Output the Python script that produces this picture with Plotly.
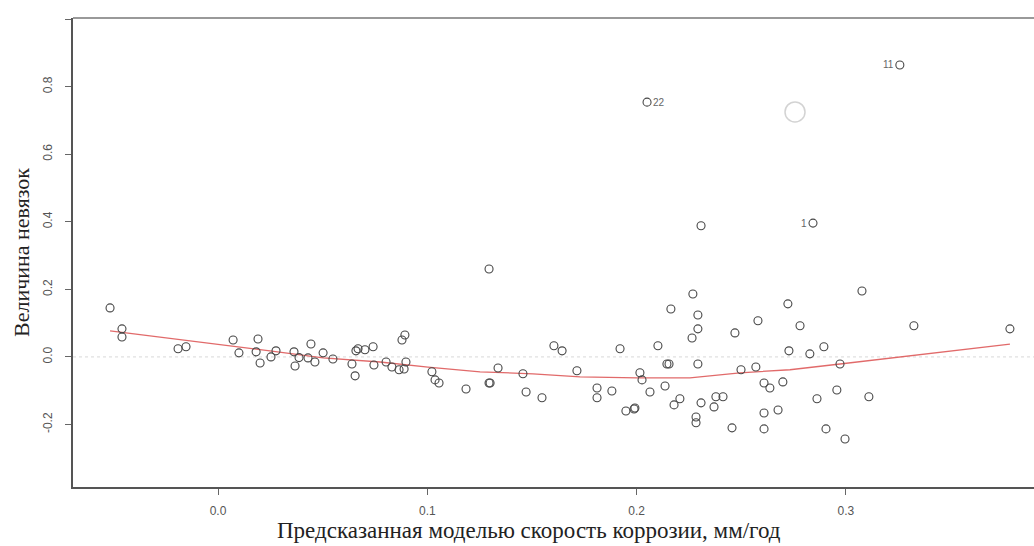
import plotly.graph_objects as go

# Fitted values (predicted corrosion rate, mm/yr) and residuals
fitted = [
    -0.0516, -0.0459, -0.0459, -0.0191, -0.0153, 0.0072, 0.0100, 0.0182, 0.0191, 0.0201,
    0.0253, 0.0277, 0.0363, 0.0368, 0.0387, 0.0430, 0.0444, 0.0463, 0.0502, 0.0549,
    0.0640, 0.0655, 0.0659, 0.0669, 0.0702, 0.0741, 0.0745, 0.0803, 0.0831, 0.0865,
    0.0889, 0.0898, 0.0879, 0.0893, 0.1022, 0.1037, 0.1056, 0.1185, 0.1295, 0.1295,
    0.1300, 0.1338, 0.1457, 0.1472, 0.1548, 0.1605, 0.1644, 0.1715, 0.1811, 0.1811,
    0.1882, 0.1921, 0.1949, 0.1988, 0.1992, 0.2016, 0.2026, 0.2064, 0.2102, 0.2136,
    0.2145, 0.2155, 0.2164, 0.2179, 0.2207, 0.2265, 0.2293, 0.2293, 0.2269, 0.2308,
    0.2293, 0.2308, 0.2284, 0.2284, 0.2370, 0.2379, 0.2413, 0.2456, 0.2470, 0.2499,
    0.2570, 0.2580, 0.2609, 0.2637, 0.2609, 0.2609, 0.2676, 0.2699, 0.2723, 0.2728,
    0.2781, 0.2828, 0.2843, 0.2862, 0.2895, 0.2905, 0.2957, 0.2972, 0.2996, 0.3077,
    0.3110, 0.3325, 0.3784, 0.2050, 0.3258,
]
residuals = [
    0.145, 0.083, 0.059, 0.024, 0.030, 0.050, 0.012, 0.015, 0.053, -0.018,
    0.000, 0.018, 0.015, -0.027, -0.002, -0.003, 0.038, -0.015, 0.012, -0.006,
    -0.021, -0.056, 0.018, 0.024, 0.021, 0.030, -0.024, -0.015, -0.030, -0.038,
    -0.036, -0.015, 0.050, 0.065, -0.044, -0.068, -0.077, -0.095, 0.260, -0.077,
    -0.077, -0.033, -0.050, -0.104, -0.121, 0.033, 0.018, -0.041, -0.092, -0.121,
    -0.101, 0.024, -0.160, -0.154, -0.151, -0.047, -0.068, -0.104, 0.033, -0.086,
    -0.021, -0.021, 0.142, -0.142, -0.124, 0.056, 0.083, 0.124, 0.186, 0.388,
    -0.021, -0.136, -0.178, -0.195, -0.148, -0.118, -0.118, -0.210, 0.071, -0.038,
    -0.030, 0.107, -0.077, -0.092, -0.166, -0.213, -0.157, -0.074, 0.157, 0.018,
    0.092, 0.009, 0.396, -0.124, 0.030, -0.213, -0.098, -0.021, -0.243, 0.195,
    -0.118, 0.092, 0.083, 0.754, 0.864,
]

# Observations with the largest residuals and their numbers
labeled_x = [0.2843, 0.3258, 0.2050]
labeled_y = [0.396, 0.864, 0.754]
labeled_id = ["1", "11", "22"]
labeled_side = ["left", "left", "right"]

# Smoothed trend of the residuals
smooth_x = [-0.0516, -0.0277, 0.0, 0.0248, 0.0502, 0.0774, 0.1003, 0.1252, 0.1505,
            0.1730, 0.2002, 0.2255, 0.2494, 0.2733, 0.2972, 0.3258, 0.3545, 0.3784]
smooth_y = [0.077, 0.059, 0.038, 0.018, -0.003, -0.015, -0.030, -0.044, -0.050,
            -0.059, -0.062, -0.062, -0.047, -0.038, -0.021, 0.000, 0.021, 0.038]

# Faint stray ring in the upper area
ring_x = [0.2757]
ring_y = [0.725]

x_ticks = [0.0, 0.1, 0.2, 0.3]
x_tick_text = ["0.0", "0.1", "0.2", "0.3"]
y_ticks = [-0.2, 0.0, 0.2, 0.4, 0.6, 0.8, 1.0]
y_tick_text = ["-0.2", "0.0", "0.2", "0.4", "0.6", "0.8", ""]

x_range = [-0.0693, 0.3899]
y_range = [-0.385, 1.003]

fig = go.Figure()

# Dotted reference line at zero residual
fig.add_trace(go.Scatter(
    x=x_range, y=[0, 0], mode="lines",
    line=dict(color="rgba(190,190,190,0.6)", width=1, dash="dot"),
    hoverinfo="skip", showlegend=False,
))

fig.add_trace(go.Scatter(
    x=smooth_x, y=smooth_y, mode="lines",
    line=dict(color="rgba(220,80,80,0.85)", width=1.3),
    showlegend=False,
))

fig.add_trace(go.Scatter(
    x=fitted, y=residuals, mode="markers",
    marker=dict(symbol="circle-open", size=8, color="#474747", line=dict(width=1.1)),
    showlegend=False,
))

fig.add_trace(go.Scatter(
    x=ring_x, y=ring_y, mode="markers",
    marker=dict(symbol="circle-open", size=20, color="rgba(200,200,200,0.8)", line=dict(width=1.5)),
    showlegend=False,
))

# Observation numbers beside the flagged points
for lx, ly, lid, side in zip(labeled_x, labeled_y, labeled_id, labeled_side):
    fig.add_annotation(
        x=lx, y=ly, text=lid, showarrow=False,
        xanchor="right" if side == "left" else "left",
        xshift=-4 if side == "left" else 4,
        font=dict(family="Liberation Sans, Arial, sans-serif", size=10, color="#666"),
    )

# X-axis title placed below the tick labels
fig.add_annotation(
    text="Предсказанная моделью скорость коррозии, мм/год",
    xref="paper", yref="paper", x=0.475, y=-0.0938,
    xanchor="center", yanchor="middle", showarrow=False,
    font=dict(family="Liberation Serif, Times New Roman, serif", size=23, color="#222"),
)

tick_font = dict(family="Liberation Sans, Arial, sans-serif", size=12, color="#555")
y_title_font = dict(family="Liberation Serif, Times New Roman, serif", size=22, color="#222")

fig.update_layout(
    width=1034, height=546,
    margin=dict(l=73, r=0, t=18, b=59),
    paper_bgcolor="white", plot_bgcolor="white",
    xaxis=dict(
        range=x_range, tickvals=x_ticks, ticktext=x_tick_text,
        ticks="outside", ticklen=6, tickcolor="#666", tickfont=tick_font,
        ticklabelstandoff=6,
        showgrid=False, zeroline=False,
        showline=True, linecolor="#555", linewidth=1.5, mirror=False,
    ),
    yaxis=dict(
        range=y_range, tickvals=y_ticks, ticktext=y_tick_text,
        ticks="outside", ticklen=6, tickcolor="#666", tickfont=tick_font,
        tickangle=-90, ticklabelstandoff=8,
        showgrid=False, zeroline=False,
        showline=True, linecolor="#555", linewidth=1.5,
        title=dict(text="Величина невязок", font=y_title_font, standoff=6),
    ),
)

# Top border of the plot frame
fig.add_shape(type="line", xref="paper", yref="paper", x0=0, x1=1, y0=1, y1=1,
              line=dict(color="#999", width=2))

fig.write_html("out.html")
